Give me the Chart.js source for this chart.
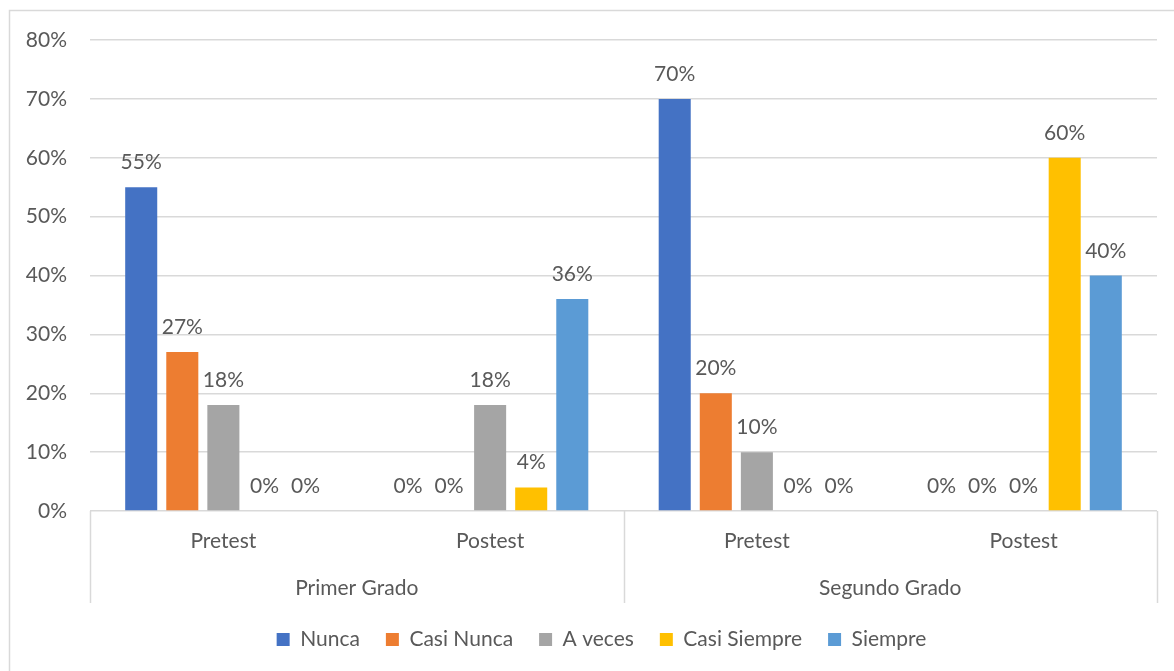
<!DOCTYPE html>
<html>
<head>
<meta charset="utf-8">
<script src="https://cdn.jsdelivr.net/npm/chart.js@4"></script>
<style>
  html, body { margin: 0; padding: 0; background: #ffffff; }
  #wrap { width: 1174px; height: 671px; position: relative; }
</style>
</head>
<body>
<div id="wrap"><canvas id="chart" width="1174" height="671"></canvas></div>
<script>
// Categories (inner level) and grade groups (outer level)
const categories = ['Pretest', 'Postest', 'Pretest', 'Postest'];
const groups = ['Primer Grado', 'Segundo Grado'];

// Percentages per response option
const nunca       = [55, 0, 70, 0];
const casiNunca   = [27, 0, 20, 0];
const aVeces      = [18, 18, 10, 0];
const casiSiempre = [0, 4, 0, 60];
const siempre     = [0, 36, 0, 40];

const seriesNames = ['Nunca', 'Casi Nunca', 'A veces', 'Casi Siempre', 'Siempre'];
const seriesColors = ['#4472C4', '#ED7D31', '#A5A5A5', '#FFC000', '#5B9BD5'];
const seriesValues = [nunca, casiNunca, aVeces, casiSiempre, siempre];

const FONT = 'Lato';
const TEXT = '#595959';
const GRID = '#d9d9d9';

// Outer frame
const framePlugin = {
  id: 'frame',
  beforeDraw(chart) {
    const ctx = chart.ctx;
    ctx.save();
    ctx.fillStyle = '#ffffff';
    ctx.fillRect(0, 0, chart.width, chart.height);
    ctx.strokeStyle = GRID;
    ctx.lineWidth = 1.5;
    ctx.strokeRect(9.5, 10.5, chart.width + 20, chart.height + 20);
    ctx.restore();
  }
};

// Legend centred on the framed area rather than the canvas
const legendShiftPlugin = {
  id: 'legendShift',
  afterLayout(chart) {
    const lg = chart.legend;
    if (lg) { lg.left += 23; lg.right += 23; }
  }
};

// Vertical separators of the two-level category axis
const separatorPlugin = {
  id: 'separators',
  afterDraw(chart) {
    const { ctx, chartArea } = chart;
    const x = chart.scales.x, x2 = chart.scales.x2;
    const mid = (x.getPixelForValue(1) + x.getPixelForValue(2)) / 2;
    const xs = [chartArea.left, mid, chartArea.right];
    ctx.save();
    ctx.strokeStyle = GRID;
    ctx.lineWidth = 1.5;
    xs.forEach(px => {
      const p = Math.round(px) + 0.5;
      ctx.beginPath();
      ctx.moveTo(p, chartArea.bottom);
      ctx.lineTo(p, x2.bottom);
      ctx.stroke();
    });
    ctx.restore();
  }
};

// Value labels above each bar
const valueLabelPlugin = {
  id: 'valueLabels',
  afterDatasetsDraw(chart) {
    const ctx = chart.ctx;
    ctx.save();
    ctx.font = '21px ' + FONT;
    ctx.fillStyle = TEXT;
    ctx.textAlign = 'center';
    ctx.textBaseline = 'alphabetic';
    chart.data.datasets.forEach((ds, i) => {
      const meta = chart.getDatasetMeta(i);
      meta.data.forEach((bar, j) => {
        ctx.fillText(ds.data[j] + '%', bar.x, bar.y - 18);
      });
    });
    ctx.restore();
  }
};

new Chart(document.getElementById('chart'), {
  type: 'bar',
  data: {
    labels: categories,
    datasets: seriesNames.map((name, i) => ({
      label: name,
      data: seriesValues[i],
      backgroundColor: seriesColors[i],
      borderWidth: 0,
      categoryPercentage: 0.77,
      barPercentage: 0.78
    }))
  },
  options: {
    responsive: false,
    animation: false,
    devicePixelRatio: 1,
    layout: { padding: { top: 40, right: 17, left: 0, bottom: 11 } },
    plugins: {
      tooltip: { enabled: false },
      legend: {
        position: 'bottom',
        labels: {
          boxWidth: 13,
          boxHeight: 13,
          padding: 26,
          color: TEXT,
          font: { family: FONT, size: 21 }
        }
      }
    },
    scales: {
      y: {
        min: 0,
        max: 80,
        ticks: {
          stepSize: 10,
          padding: 23,
          color: TEXT,
          font: { family: FONT, size: 21 },
          callback: v => v + '%'
        },
        grid: { color: GRID, lineWidth: 1.5, drawTicks: false },
        border: { display: false },
        afterFit(scale) { scale.width = 90; }
      },
      x: {
        weight: 0,
        ticks: {
          padding: 18,
          color: TEXT,
          font: { family: FONT, size: 21 }
        },
        grid: { display: false, drawTicks: false },
        border: { display: false },
        afterFit(scale) { scale.height = 46; }
      },
      x2: {
        type: 'category',
        labels: groups,
        position: 'bottom',
        offset: true,
        weight: 1,
        ticks: {
          padding: 19,
          color: TEXT,
          font: { family: FONT, size: 21 }
        },
        grid: { display: false, drawTicks: false },
        border: { display: false },
        afterFit(scale) { scale.height = 46; }
      }
    }
  },
  plugins: [framePlugin, legendShiftPlugin, separatorPlugin, valueLabelPlugin]
});
</script>
</body>
</html>
